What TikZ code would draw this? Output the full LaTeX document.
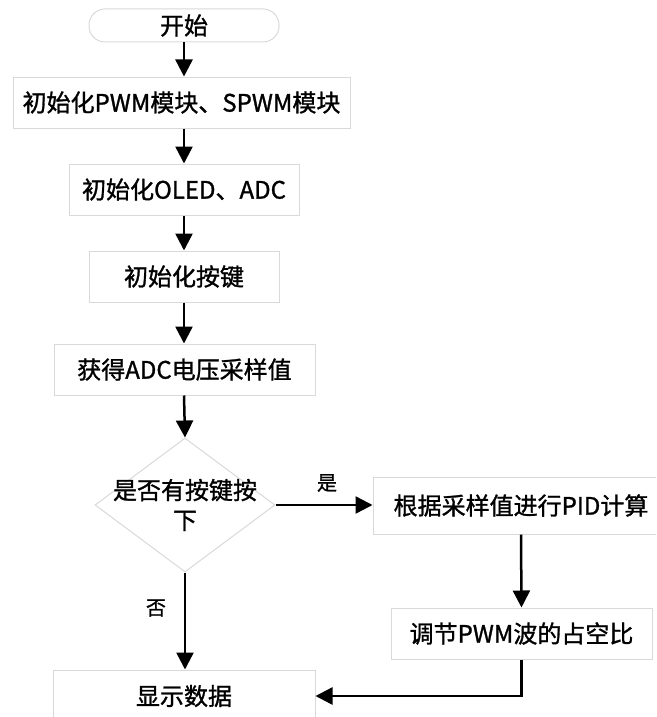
\documentclass[tikz,border=0pt]{standalone}
\usepackage{fontspec}
\setmainfont{Noto Sans CJK SC}[FakeBold=1.2]
\usetikzlibrary{arrows.meta,shapes.geometric}
\definecolor{boxgray}{HTML}{D9D9D9}
\begin{document}
\begin{tikzpicture}[x=1pt,y=-1pt,
  box/.style={draw=boxgray, line width=1pt, rectangle, inner sep=0pt, fill=white,
    font=\fontsize{24}{28}\selectfont},
  termbox/.style={box, rounded corners=16pt},
  decbox/.style={draw=boxgray, line width=1pt, diamond, inner sep=0pt,
    minimum width=180pt, minimum height=134pt},
  arr/.style={line width=2.5pt, -{Triangle[length=17pt,width=17pt]}},
  lbl/.style={font=\fontsize{20}{22}\selectfont}]
\path[use as bounding box, clip] (0,0) rectangle (656,717);
\node[termbox, minimum width=190pt, minimum height=33pt] (start) at (184,25.5) {开始};
\node[box, minimum width=337pt, minimum height=51pt] (b1) at (181.5,102.5) {初始化PWM模块、SPWM模块};
\node[box, minimum width=230pt, minimum height=51pt] (b2) at (184,189.5) {初始化OLED、ADC};
\node[box, minimum width=190pt, minimum height=51pt] (b3) at (184,276.5) {初始化按键};
\node[box, minimum width=261pt, minimum height=51pt] (b4) at (184.5,369.5) {获得ADC电压采样值};
\node[decbox] (d) at (185,505) {};
\node[font=\fontsize{24}{30}\selectfont, align=center] (dt) at (d.center) {是否有按键按\\下};
\node[box, minimum width=296pt, minimum height=57pt] (b5) at (521,505.5) {根据采样值进行PID计算};
\node[box, minimum width=261pt, minimum height=51pt] (b6) at (521.5,633.5) {调节PWM波的占空比};
\node[box, minimum width=262pt, minimum height=52pt] (b7) at (184,696) {显示数据};
\coordinate (c0) at (184,0);
\draw[arr] (c0 |- start.south) -- (c0 |- b1.north);
\draw[arr] (c0 |- b1.south) -- (c0 |- b2.north);
\draw[arr] (c0 |- b2.south) -- (c0 |- b3.north);
\draw[arr] (c0 |- b3.south) -- (c0 |- b4.north);
\draw[arr] (c0 |- b4.south) -- (d.north);
\draw[arr] (d.east) -- (d.east -| b5.west);
\node[lbl] (yes) at (327,483) {是};
\draw[arr] (d.south) -- (d.south |- b7.north);
\node[lbl] (no) at (156,608) {否};
\draw[arr] (b5.south) -- (b6.north);
\draw[arr] (b6.south) -- (b6.south |- b7.east) -- (b7.east);
\end{tikzpicture}
\end{document}
